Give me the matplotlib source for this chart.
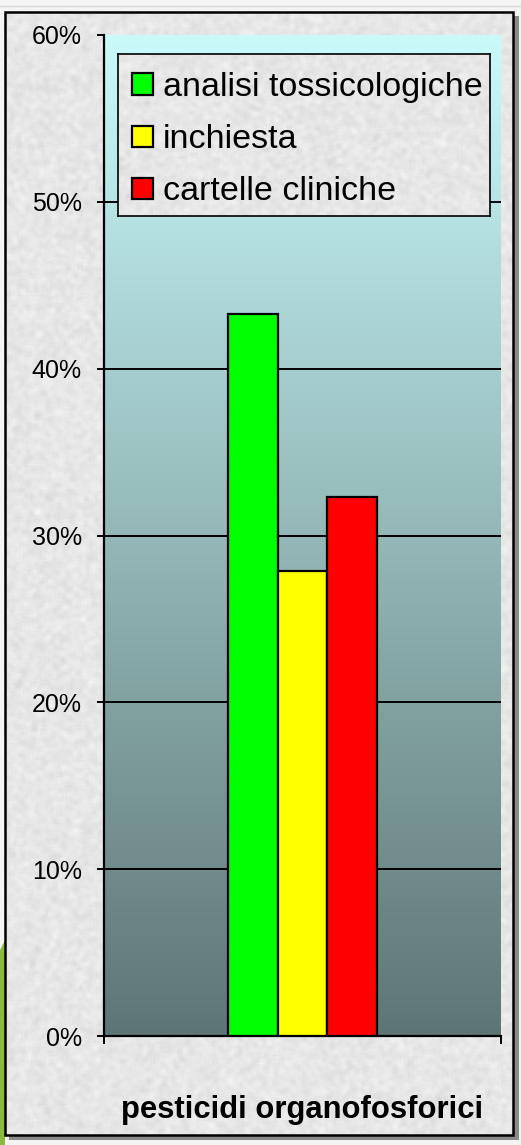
import numpy as np
import matplotlib
matplotlib.use("Agg")
import matplotlib.pyplot as plt
from matplotlib.patches import Rectangle, Polygon
from matplotlib.ticker import FuncFormatter

# ---- data ----
category = "pesticidi organofosforici"
series_names = ["analisi tossicologiche", "inchiesta", "cartelle cliniche"]
series_values = [43.3, 27.9, 32.3]
series_colors = ["#00ff00", "#ffff00", "#ff0000"]
y_ticks = [0, 10, 20, 30, 40, 50, 60]

plt.rcParams['font.family'] = ['Liberation Sans', 'DejaVu Sans']

W, H = 521, 1145
fig = plt.figure(figsize=(W / 100, H / 100), dpi=100)
fig.patch.set_facecolor("#f4f4f4")

def fx(x):
    return x / W

def fy(y):
    return 1 - y / H

def texture(h, w, seed):
    rng = np.random.default_rng(seed)
    noise = rng.normal(0, 1, (h, w))
    k = np.ones(3) / 3
    noise = np.apply_along_axis(lambda r: np.convolve(r, k, mode="same"), 1, noise)
    noise = np.apply_along_axis(lambda c: np.convolve(c, k, mode="same"), 0, noise)
    t = np.clip(0.905 + 0.045 * noise, 0.75, 1.0)
    return np.dstack([t, t, t])

# ---- background texture (decorative) ----
bg = fig.add_axes([0, 0, 1, 1], zorder=0)
bg.set_xlim(0, W)
bg.set_ylim(H, 0)
bg.axis("off")
bg.add_patch(Rectangle((9, 16), 510, 1124, facecolor="#8a8a8a", edgecolor="none", zorder=1))
bg.add_patch(Polygon([[0, 950], [5, 940], [5, 1145], [0, 1145]], closed=True,
                     facecolor="#8dba3c", edgecolor="none", zorder=1))
bg.imshow(texture(H // 2, W // 2, 3), extent=[5, 513, 1135, 12], aspect="auto",
          zorder=2, interpolation="bilinear")
bg.add_patch(Rectangle((5, 12), 508, 1123, facecolor="none", edgecolor="black",
                       linewidth=1.8, zorder=3))
bg.plot([0, W], [6, 6], color="#d8d8d8", lw=1, zorder=1)

# ---- main axes ----
x0, x1, y0, y1 = 104, 501, 35, 1036
ax = fig.add_axes([fx(x0), fy(y1), fx(x1 - x0), (y1 - y0) / H], zorder=2)

grad = np.linspace(0, 1, 256)[:, None]
top = np.array([0.79, 0.98, 0.98])
mid = np.array([0.58, 0.72, 0.72])
bot = np.array([0.37, 0.46, 0.46])
g = grad[..., None]
img = np.where(g < 0.5,
               top + (mid - top) * (g / 0.5),
               mid + (bot - mid) * ((g - 0.5) / 0.5))
ax.imshow(img, extent=[-0.5, 0.5, 0, 60], origin="upper", aspect="auto", zorder=0)
ax.set_xlim(-0.5, 0.5)
ax.set_ylim(0, 60)

for yv in y_ticks[1:-1]:
    ax.axhline(yv, color="black", lw=1.4, zorder=1)

bw = 0.125
n = len(series_values)
offsets = (np.arange(n) - (n - 1) / 2) * bw
handles = []
for off, v, c, name in zip(offsets, series_values, series_colors, series_names):
    b = ax.bar(off, v, width=bw, color=c, edgecolor="black", linewidth=1.6,
               zorder=3, label=name)
    handles.append(b)

ax.set_yticks(y_ticks)
ax.yaxis.set_major_formatter(FuncFormatter(lambda v, p: f"{int(v)}%"))
ax.tick_params(axis="y", direction="out", length=5, width=1.4, labelsize=18,
               pad=11, colors="black")
ax.set_xticks([-0.5, 0.5])
ax.set_xticklabels(["", ""])
ax.tick_params(axis="x", direction="out", length=6, width=1.4)
for s in ["top", "right"]:
    ax.spines[s].set_visible(False)
ax.spines["left"].set_linewidth(1.6)
ax.spines["bottom"].set_linewidth(1.6)

fig.text(fx(302), fy(1110), category, ha="center", va="center",
         fontsize=22.3, fontweight="bold")

# legend box (textured, fixed frame)
lx0, lx1, ly0, ly1 = 118, 490, 54, 216
tax = fig.add_axes([fx(lx0), fy(ly1), fx(lx1 - lx0), (ly1 - ly0) / H], zorder=5)
tax.imshow(texture(90, 190, 7), aspect="auto", interpolation="bilinear")
tax.set_xticks([])
tax.set_yticks([])
for s in tax.spines.values():
    s.set_linewidth(1.2)
    s.set_color("black")

leg = fig.legend(handles, series_names, loc="upper left",
                 bbox_to_anchor=(fx(118), fy(58)),
                 bbox_transform=fig.transFigure, fontsize=24.5, frameon=False,
                 handlelength=0.6, handleheight=0.6,
                 handletextpad=0.3, labelspacing=0.62, borderpad=0.42,
                 borderaxespad=0)
leg.set_zorder(6)

fig.savefig("out.png", dpi=100)
